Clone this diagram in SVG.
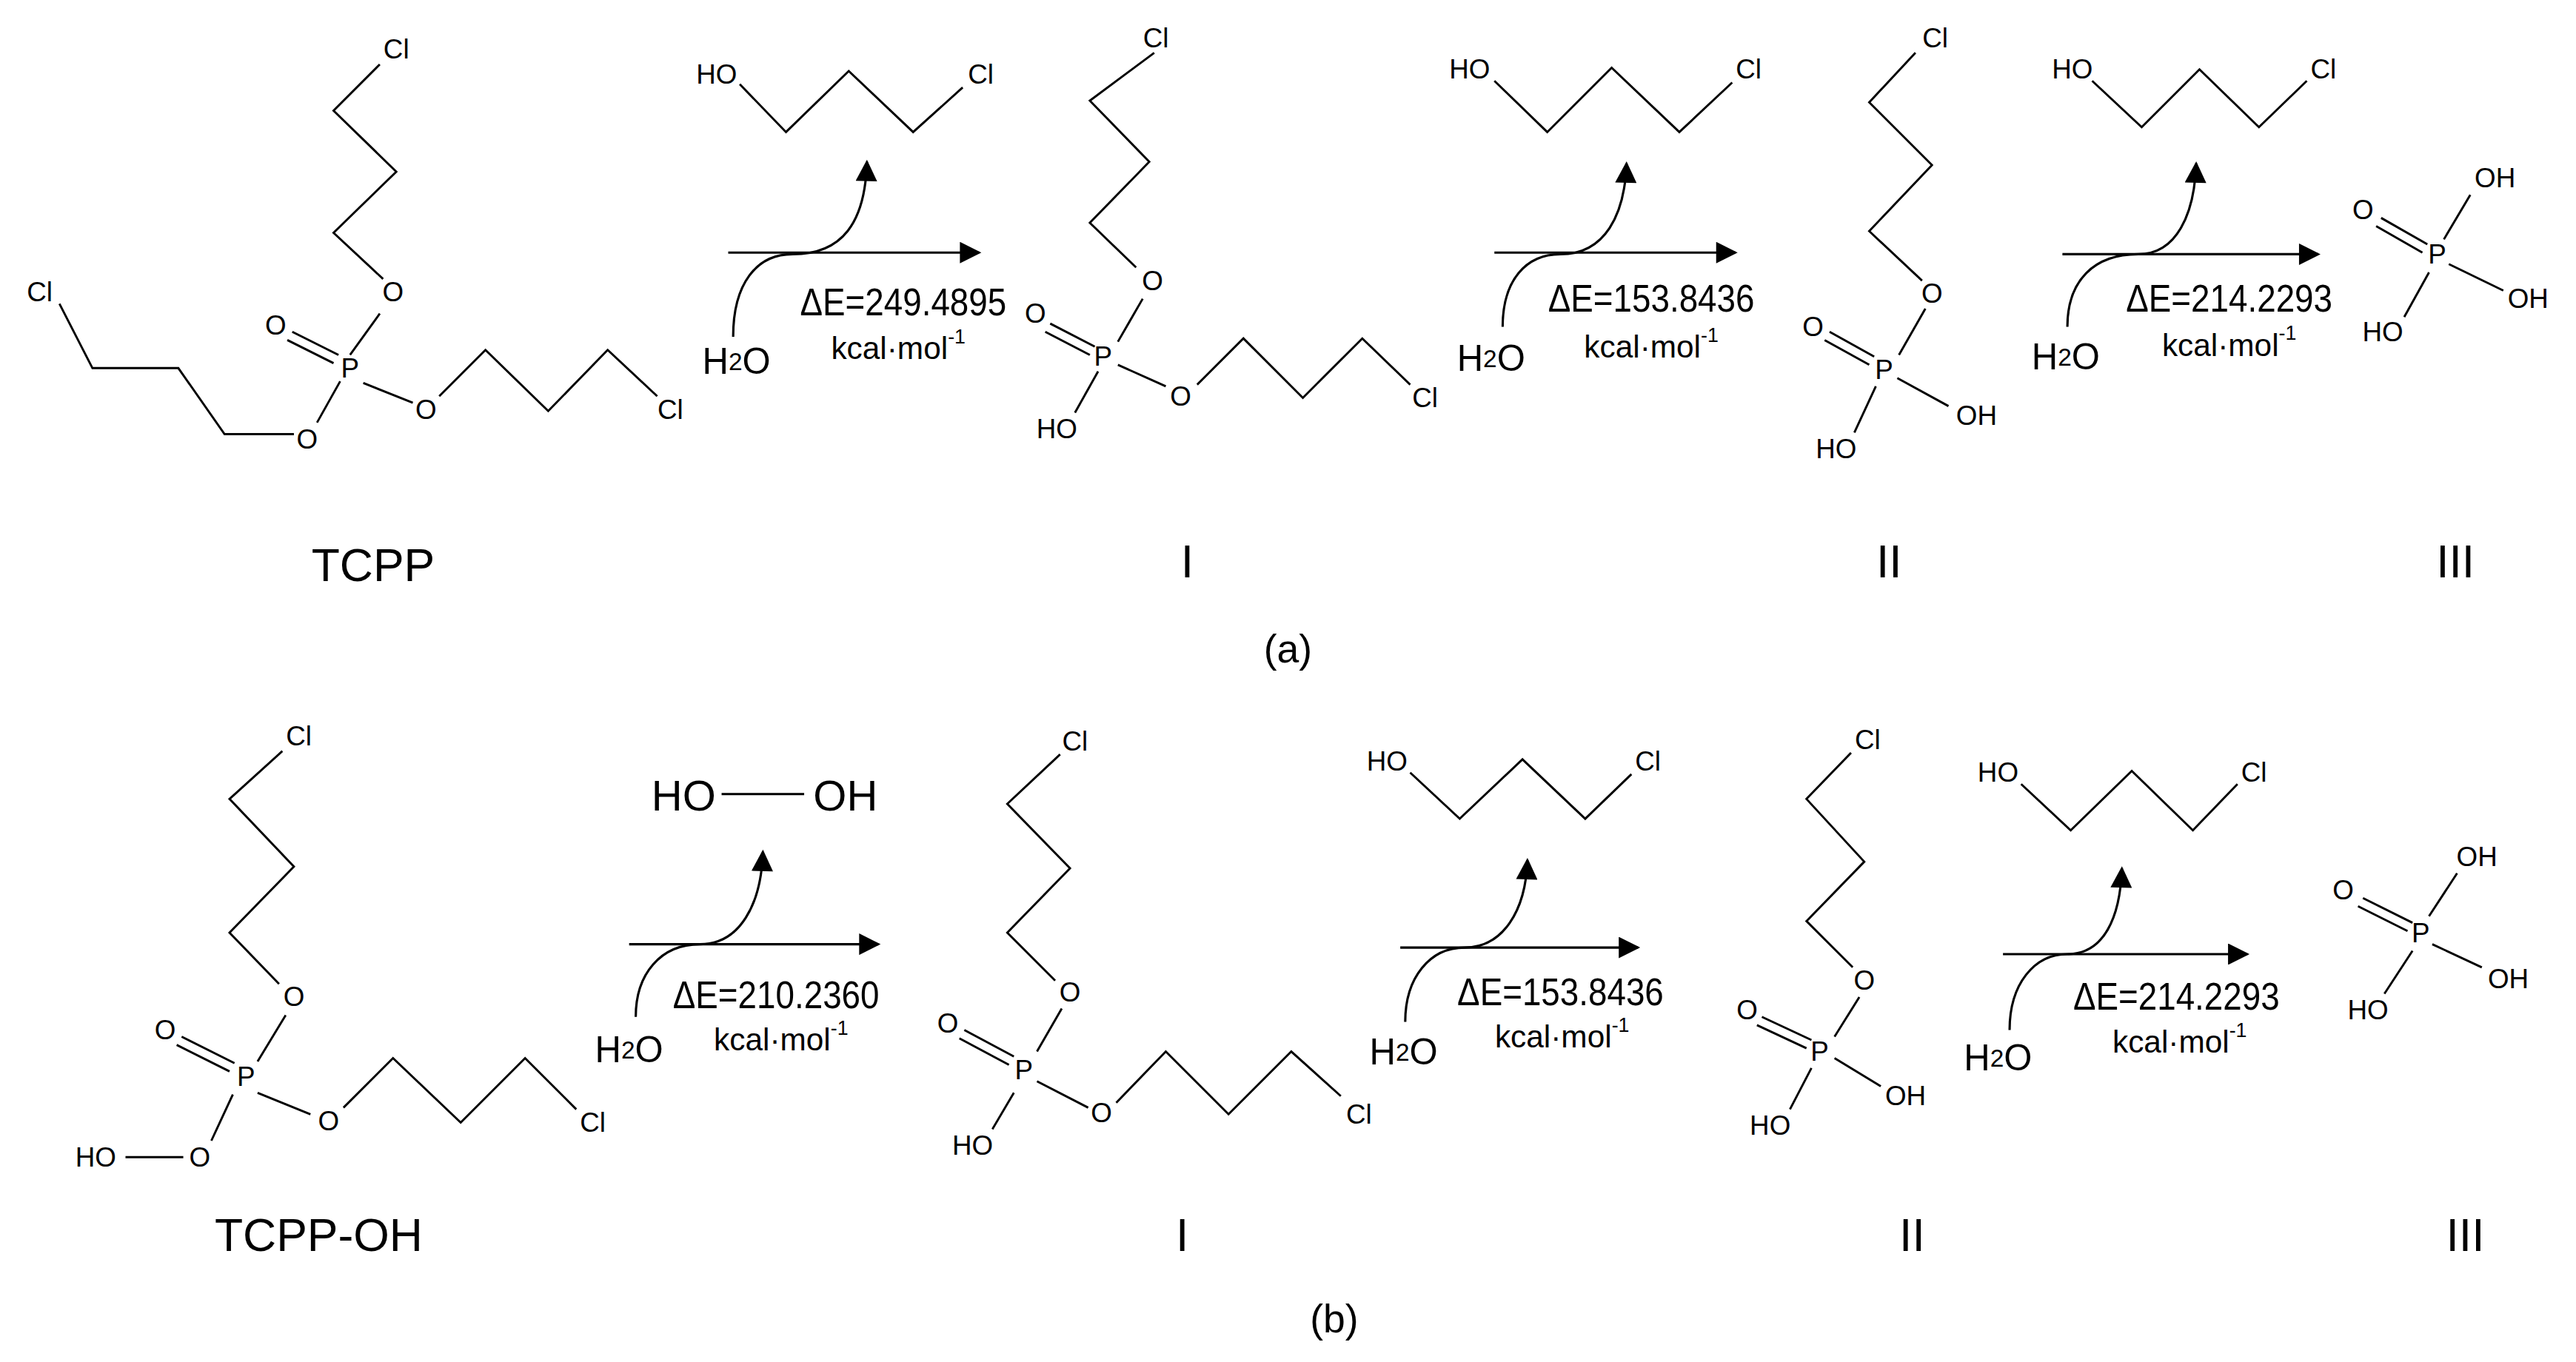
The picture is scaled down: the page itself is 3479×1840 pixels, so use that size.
<svg xmlns="http://www.w3.org/2000/svg" width="3479" height="1840" viewBox="0 0 3479 1840">
<defs>
<style>
.b{fill:none;stroke:#000;stroke-width:1.3;stroke-linejoin:miter}
.a{fill:none;stroke:#000;stroke-width:1.4}
text{font-family:"Liberation Sans",Arial,sans-serif;fill:#000;dominant-baseline:central;text-anchor:middle}
.s{font-size:16.5px}
.w{font-size:22px}
.e{font-size:23px}
.k{font-size:19px}
.L{font-size:28px}
.h{font-size:26px}
.p{font-size:24px}
</style>
<marker id="ah" viewBox="0 0 10 10" refX="9" refY="5" markerWidth="18" markerHeight="13" markerUnits="userSpaceOnUse" orient="auto"><path d="M0,0L10,5L0,10z" fill="#000"/></marker>
</defs>
<rect width="3479" height="1840" fill="#fff"/>
<g transform="scale(2.2301)">
<!-- Panel a -->
<g id="tcpp">
<polyline class="b" points="230,39 202,67 240,104 202,141 232,169"/>
<line class="b" x1="230" y1="190" x2="212" y2="215"/>
<line class="b" x1="205" y1="215" x2="177" y2="201"/><line class="b" x1="202" y1="220" x2="174" y2="206"/>
<line class="b" x1="206" y1="231" x2="192" y2="256"/>
<polyline class="b" points="178,263 136,263 108,223 56,223 36,184"/>
<line class="b" x1="220" y1="232" x2="250" y2="244"/>
<polyline class="b" points="266,240 294,212 332,249 368,212 398,240"/>
<text class="s" x="240" y="30">Cl</text><text class="s" x="238" y="177">O</text><text class="s" x="212" y="223">P</text>
<text class="s" x="167" y="197">O</text><text class="s" x="186" y="266">O</text><text class="s" x="24" y="177">Cl</text>
<text class="s" x="258" y="248">O</text><text class="s" x="406" y="248">Cl</text>
<text class="L" x="226" y="342">TCPP</text>
</g>
<g id="a1">
<polyline class="b" points="448,51 476,80 514,43 553,80 583,53"/>
<text class="s" x="434" y="45">HO</text><text class="s" x="594" y="45">Cl</text>
<text class="w" x="446" y="219">H<tspan font-size="15">2</tspan>O</text>
<text class="e" x="547" y="183" textLength="125" lengthAdjust="spacingAndGlyphs">ΔE=249.4895</text>
<text class="k" x="544" y="211">kcal·mol<tspan font-size="12" dy="-7">-1</tspan></text>
</g>
<g id="Ia">
<polyline class="b" points="699,32 660,61 696,98 660,135 688,162"/>
<line class="b" x1="692" y1="181" x2="677" y2="207"/>
<line class="b" x1="663" y1="210" x2="636" y2="196"/><line class="b" x1="660" y1="215" x2="633" y2="201"/>
<line class="b" x1="665" y1="225" x2="651" y2="250"/>
<line class="b" x1="677" y1="221" x2="706" y2="234"/>
<polyline class="b" points="725,233 753,205 789,241 825,205 854,233"/>
<text class="s" x="700" y="23">Cl</text><text class="s" x="698" y="170">O</text><text class="s" x="668" y="216">P</text>
<text class="s" x="627" y="190">O</text><text class="s" x="640" y="260">HO</text><text class="s" x="715" y="240">O</text><text class="s" x="863" y="241">Cl</text>
<text class="L" x="719" y="340">I</text>
</g>
<g id="a2">
<polyline class="b" points="905,49 937,80 976,41 1017,80 1049,50"/>
<text class="s" x="890" y="42">HO</text><text class="s" x="1059" y="42">Cl</text>
<text class="w" x="903" y="217">H<tspan font-size="15">2</tspan>O</text>
<text class="e" x="1000" y="181" textLength="125" lengthAdjust="spacingAndGlyphs">ΔE=153.8436</text>
<text class="k" x="1000" y="210">kcal·mol<tspan font-size="12" dy="-7">-1</tspan></text>
</g>
<g id="IIa">
<polyline class="b" points="1160,32 1132,62 1170,100 1132,140 1164,170"/>
<line class="b" x1="1166" y1="187" x2="1150" y2="215"/>
<line class="b" x1="1135" y1="216" x2="1108" y2="201"/><line class="b" x1="1132" y1="221" x2="1105" y2="206"/>
<line class="b" x1="1136" y1="234" x2="1123" y2="262"/>
<line class="b" x1="1149" y1="229" x2="1180" y2="246"/>
<text class="s" x="1172" y="23">Cl</text><text class="s" x="1170" y="178">O</text><text class="s" x="1141" y="224">P</text>
<text class="s" x="1098" y="198">O</text><text class="s" x="1112" y="272">HO</text><text class="s" x="1197" y="252">OH</text>
<text class="L" x="1144" y="340">II</text>
</g>
<g id="a3">
<polyline class="b" points="1267,49 1297,77 1332,42 1368,77 1397,49"/>
<text class="s" x="1255" y="42">HO</text><text class="s" x="1407" y="42">Cl</text>
<text class="w" x="1251" y="216">H<tspan font-size="15">2</tspan>O</text>
<text class="e" x="1350" y="181" textLength="125" lengthAdjust="spacingAndGlyphs">ΔE=214.2293</text>
<text class="k" x="1350" y="209">kcal·mol<tspan font-size="12" dy="-7">-1</tspan></text>
</g>
<g id="IIIa">
<line class="b" x1="1480" y1="145" x2="1496" y2="118"/>
<line class="b" x1="1470" y1="148" x2="1442" y2="132"/><line class="b" x1="1467" y1="153" x2="1439" y2="137"/>
<line class="b" x1="1483" y1="160" x2="1516" y2="176"/>
<line class="b" x1="1471" y1="165" x2="1456" y2="192"/>
<text class="s" x="1476" y="154">P</text><text class="s" x="1511" y="108">OH</text><text class="s" x="1431" y="127">O</text>
<text class="s" x="1531" y="181">OH</text><text class="s" x="1443" y="201">HO</text>
<text class="L" x="1487" y="340">III</text>
</g>
<text class="p" x="780" y="393">(a)</text>
<!-- Panel b -->
<g id="tcppoh">
<polyline class="b" points="171,455 139,484 178,525 139,565 169,596"/>
<line class="b" x1="173" y1="615" x2="156" y2="643"/>
<line class="b" x1="142" y1="644" x2="110" y2="628"/><line class="b" x1="139" y1="649" x2="107" y2="633"/>
<line class="b" x1="141" y1="663" x2="128" y2="691"/>
<line class="b" x1="76" y1="701" x2="111" y2="701"/>
<line class="b" x1="156" y1="662" x2="188" y2="675"/>
<polyline class="b" points="208,671 238,641 279,680 318,641 349,672"/>
<text class="s" x="181" y="446">Cl</text><text class="s" x="178" y="604">O</text><text class="s" x="149" y="652">P</text>
<text class="s" x="100" y="624">O</text><text class="s" x="121" y="701">O</text><text class="s" x="58" y="701">HO</text>
<text class="s" x="199" y="679">O</text><text class="s" x="359" y="680">Cl</text>
<text class="L" x="193" y="748">TCPP-OH</text>
</g>
<g id="b1">
<line class="b" x1="437" y1="481" x2="487" y2="481"/>
<text class="h" x="414" y="482">HO</text><text class="h" x="512" y="482">OH</text>
<text class="w" x="381" y="636">H<tspan font-size="15">2</tspan>O</text>
<text class="e" x="470" y="603" textLength="125" lengthAdjust="spacingAndGlyphs">ΔE=210.2360</text>
<text class="k" x="473" y="630">kcal·mol<tspan font-size="12" dy="-7">-1</tspan></text>
</g>
<g id="Ib">
<polyline class="b" points="642,457 610,487 648,526 610,565 639,594"/>
<line class="b" x1="643" y1="611" x2="628" y2="637"/>
<line class="b" x1="614" y1="640" x2="584" y2="624"/><line class="b" x1="611" y1="645" x2="581" y2="629"/>
<line class="b" x1="614" y1="662" x2="601" y2="684"/>
<line class="b" x1="628" y1="655" x2="659" y2="671"/>
<polyline class="b" points="676,668 706,637 744,675 782,637 812,664"/>
<text class="s" x="651" y="449">Cl</text><text class="s" x="648" y="601">O</text><text class="s" x="620" y="648">P</text>
<text class="s" x="574" y="620">O</text><text class="s" x="589" y="694">HO</text><text class="s" x="667" y="674">O</text><text class="s" x="823" y="675">Cl</text>
<text class="L" x="716" y="748">I</text>
</g>
<g id="b2">
<polyline class="b" points="854,468 884,496 922,460 960,496 988,469"/>
<text class="s" x="840" y="461">HO</text><text class="s" x="998" y="461">Cl</text>
<text class="w" x="850" y="637">H<tspan font-size="15">2</tspan>O</text>
<text class="e" x="945" y="601" textLength="125" lengthAdjust="spacingAndGlyphs">ΔE=153.8436</text>
<text class="k" x="946" y="628">kcal·mol<tspan font-size="12" dy="-7">-1</tspan></text>
</g>
<g id="IIb">
<polyline class="b" points="1121,456 1094,484 1129,522 1094,558 1122,586"/>
<line class="b" x1="1126" y1="604" x2="1111" y2="628"/>
<line class="b" x1="1097" y1="630" x2="1067" y2="616"/><line class="b" x1="1094" y1="635" x2="1064" y2="621"/>
<line class="b" x1="1097" y1="647" x2="1084" y2="672"/>
<line class="b" x1="1111" y1="641" x2="1139" y2="658"/>
<text class="s" x="1131" y="448">Cl</text><text class="s" x="1129" y="594">O</text><text class="s" x="1102" y="637">P</text>
<text class="s" x="1058" y="612">O</text><text class="s" x="1072" y="682">HO</text><text class="s" x="1154" y="664">OH</text>
<text class="L" x="1158" y="748">II</text>
</g>
<g id="b3">
<polyline class="b" points="1224,475 1254,503 1291,467 1328,503 1355,475"/>
<text class="s" x="1210" y="468">HO</text><text class="s" x="1365" y="468">Cl</text>
<text class="w" x="1210" y="641">H<tspan font-size="15">2</tspan>O</text>
<text class="e" x="1318" y="604" textLength="125" lengthAdjust="spacingAndGlyphs">ΔE=214.2293</text>
<text class="k" x="1320" y="631">kcal·mol<tspan font-size="12" dy="-7">-1</tspan></text>
</g>
<g id="IIIb">
<line class="b" x1="1471" y1="555" x2="1488" y2="529"/>
<line class="b" x1="1461" y1="559" x2="1431" y2="544"/><line class="b" x1="1458" y1="564" x2="1428" y2="549"/>
<line class="b" x1="1473" y1="572" x2="1503" y2="586"/>
<line class="b" x1="1461" y1="576" x2="1444" y2="602"/>
<text class="s" x="1466" y="565">P</text><text class="s" x="1500" y="519">OH</text><text class="s" x="1419" y="539">O</text>
<text class="s" x="1519" y="593">OH</text><text class="s" x="1434" y="612">HO</text>
<text class="L" x="1493" y="748">III</text>
</g>
<text class="p" x="808" y="799">(b)</text>
<!-- connectors -->
<g id="connectors">
<line class="a" x1="441" y1="153" x2="593" y2="153" marker-end="url(#ah)"/>
<path class="a" d="M444,204 C444,172 458,154 480,154 C510,154 524,135 525,98" marker-end="url(#ah)"/>
<line class="a" x1="905" y1="153" x2="1051" y2="153" marker-end="url(#ah)"/>
<path class="a" d="M910,198 C910,170 924,154 945,154 C972,154 984,130 985,99" marker-end="url(#ah)"/>
<line class="a" x1="1249" y1="154" x2="1404" y2="154" marker-end="url(#ah)"/>
<path class="a" d="M1252,198 C1252,170 1268,154 1295,154 C1318,154 1329,130 1330,99" marker-end="url(#ah)"/>
<line class="a" x1="381" y1="572" x2="532" y2="572" marker-end="url(#ah)"/>
<path class="a" d="M385,616 C385,590 400,572 424,572 C448,572 461,548 462,516" marker-end="url(#ah)"/>
<line class="a" x1="848" y1="574" x2="992" y2="574" marker-end="url(#ah)"/>
<path class="a" d="M851,619 C851,592 866,574 887,574 C910,574 924,552 925,521" marker-end="url(#ah)"/>
<line class="a" x1="1213" y1="578" x2="1361" y2="578" marker-end="url(#ah)"/>
<path class="a" d="M1217,624 C1217,596 1232,578 1252,578 C1274,578 1284,556 1285,526" marker-end="url(#ah)"/>
</g>
</g>
</svg>
